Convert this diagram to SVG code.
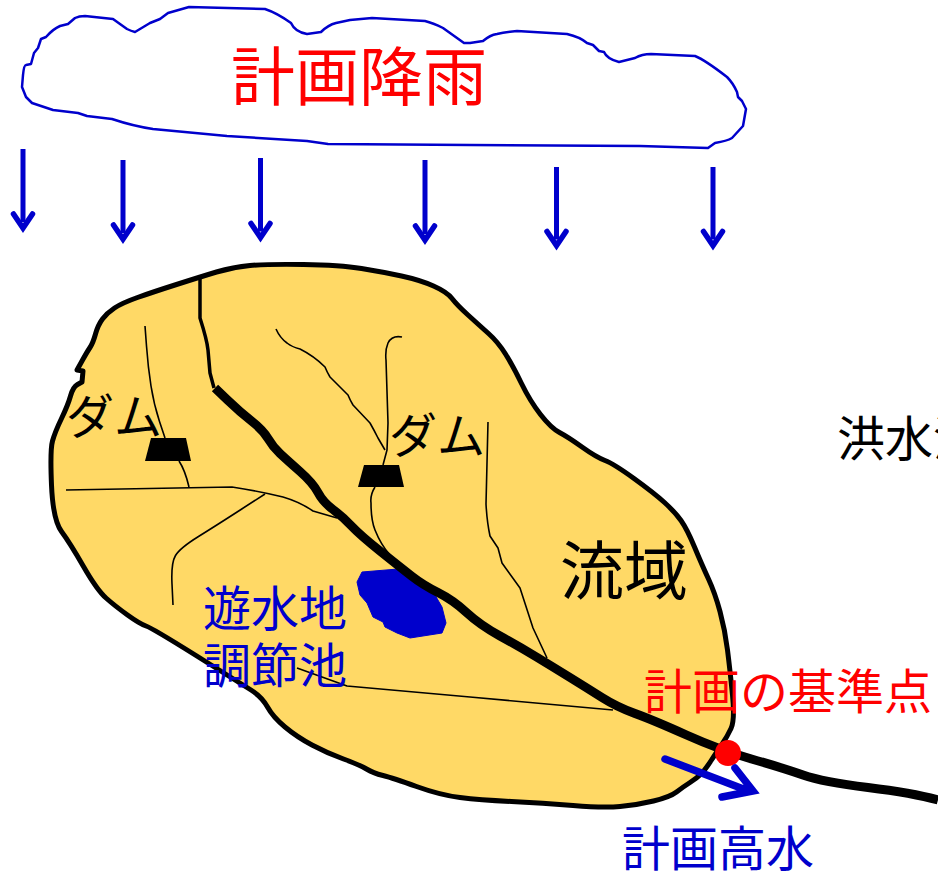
<svg xmlns="http://www.w3.org/2000/svg" width="938" height="872" viewBox="0 0 938 872">
  <style>
    text { font-family: "Noto Sans CJK JP", "Noto Sans", sans-serif; font-size: 48px; }
    .red { fill: #ff0000; }
    .blue { fill: #0000cc; }
    .black { fill: #000000; }
    .big { font-size: 64px; }
    .stream { fill: none; stroke: #000; stroke-width: 1.6; stroke-linejoin: round; }
    .dam { fill: #000; }
    .rain { fill: none; stroke: #0000cc; stroke-width: 5; marker-end: url(#rainHead); }
  </style>
  <defs>
    <marker id="rainHead" markerUnits="userSpaceOnUse" markerWidth="30" markerHeight="30" refX="15" refY="16" orient="0" overflow="visible">
      <path d="M5.500 8 L15 22 L24.500 8" fill="none" stroke="#0000cc" stroke-width="5.500" stroke-linecap="round" stroke-linejoin="miter" stroke-miterlimit="8"/>
    </marker>
  </defs>
  <rect width="938" height="872" fill="#ffffff"/>

  <g id="cloud">
    <path fill="none" stroke="#0000cc" stroke-width="2.500" stroke-linejoin="round" d="M22 87 L23 75 Q24 65 26 65 L31 64 L34 53 L38 48 L41 39 L46 37 Q53 29 60 26 L68 24 L75 18 Q79 16 85 16 L113 19 L127 29 Q131 31 135 32 L150 23 L160 19 L168 13 L189 7 L265 9 Q277 13 291 23 Q295 32 307 34 L321 32 Q328 25 336 23 L350 20 L372 18 L425 21 Q433 23 443 28 L464 43 L470 43 L483 41 Q490 35 497 34 Q505 32 517 31 L567 34 Q580 37 587 43 L593 45 L599 51 L604 52 Q607 59 619 62 L635 58 Q642 54 651 54 L695 56 Q705 60 727 77 Q733 83 737 92 L738 97 L742 101 L746 109 L743 126 L732 138 Q727 141 715 143 L708 148 L640 146 L470 145 L328 144 L307 141 L227 136 L153 129 Q133 126 112 119 L87 116 L78 113 L53 110 L32 103 L26 97 Z"/>
  </g>

  <g id="rainfall">
    <path class="rain" d="M23 149 V222"/>
    <path class="rain" d="M123 160 V233"/>
    <path class="rain" d="M260.500 158 V231.500"/>
    <path class="rain" d="M425 160 V234"/>
    <path class="rain" d="M556.500 167 V239.500"/>
    <path class="rain" d="M713 167 V239.500"/>
  </g>

  <g id="basin">
    <path fill="#ffd966" stroke="#000" stroke-width="5" stroke-linejoin="round" d="M176.500 284.500 Q200 277 216.500 272 Q233 267 250 265.500 Q267 264 303.500 264.500 Q340 265 361.500 268.500 Q383 272 401.500 276 Q420 280 433.500 286 Q447 292 452 298.500 Q457 305 468 315 Q479 325 488.500 333.500 Q498 342 505.500 354 Q513 366 521.500 383.500 Q530 401 540.500 414.500 Q551 428 559.500 432.500 Q568 437 582 447 Q596 457 605 460.500 Q614 464 634 478.500 Q654 493 664.500 502.500 Q675 512 681 520.500 Q687 529 694.500 547 Q702 565 708.500 579 Q715 593 720 611.500 Q725 630 727.500 650 Q730 670 732.500 695 Q735 720 731 728.500 Q727 737 722.500 743.500 Q718 750 711.500 760 Q705 770 701 774 Q697 778 690 782.500 Q683 787 676.500 792 Q670 797 653.500 801 Q637 805 620 806.500 Q603 808 573 805.500 Q543 803 511.500 801.500 Q480 800 460 797.500 Q440 795 416.500 786.500 Q393 778 383 775.500 Q373 773 366.500 769 Q360 765 343.500 759 Q327 753 312 745 Q297 737 285 727 Q273 717 267.500 707 Q262 697 251 690 Q240 683 196 655.500 Q152 628 146 626 Q140 624 127.500 615 Q115 606 106 598 Q97 590 83.500 566.500 Q70 543 61.500 531.500 Q53 520 51.500 485 Q50 450 52.500 441 Q55 432 61.500 418.500 Q68 405 70.500 396 Q73 387 77.500 384.500 L82 382 L83 371 L77 370 L82 361 Q87 352 90 347.500 Q93 343 95.500 334 Q98 325 102.500 319 Q107 313 114.500 308 Q122 303 137.500 297.500 Q153 292 176.500 284.500 Z"/>
  </g>

  <g id="reservoir">
    <path fill="#0000cc" stroke="#0000cc" stroke-width="1" stroke-linejoin="round" d="M362 572 L398 569 L410 580 L435 595 L442 607 L446 623 L442 633 L410 638 L397 633 L385 627 L383 622 L373 617 L367 603 L360 595 L357 582 Z"/>
  </g>

  <g id="connectors">
    <g id="tributaries">
      <path class="stream" d="M145 326 L146.500 346 Q148 367 151 386 Q154 405 159.500 421.500 L165 438 M179 461 Q185 470 189 487"/>
      <path class="stream" d="M66 490 L232 487 Q258 491 283 497 Q300 502 313 511 L337 518"/>
      <path class="stream" d="M265 494 L241 509.500 Q217 525 198.500 536.500 Q180 548 175.500 555.500 Q171 563 172 584 L173 605"/>
      <path class="stream" d="M276 329 Q280 338 287 343 Q292 347 300 349 Q314 356 325 367 Q327 372 330 377 L348 395 Q350 400 353 405 L370 423 Q374 430 378 438 L385 450"/>
      <path class="stream" d="M402 337 Q392 335 388 343 Q385 350 386 360 L388 423 L387 450 L383 465 M375 487 Q370 495 371 503 Q371 520 375 530 Q381 545 390 555"/>
      <path class="stream" d="M488 422 L486 504 Q487 522 490 536 L498 548 L502 563 L520 588 L533 628 L547 658"/>
      <path class="stream" d="M297 668 L347 686 L470 697 L613 710"/>
    </g>
    <path id="river-upper" fill="none" stroke="#000" stroke-width="3.500" stroke-linejoin="round" d="M200 278 L200 318 Q207 340 208 350 L210 373 L214 388"/>
    <path id="river-main" fill="none" stroke="#000" stroke-width="9" stroke-linejoin="round" d="M215 388 L227.500 400 Q240 412 251.500 421 Q263 430 268 438.500 Q273 447 280 453.500 Q287 460 300 471.500 Q313 483 318 492.500 Q323 502 333 509.500 Q343 517 351.500 526 Q360 535 380 551 Q400 567 411.500 576 Q423 585 438 592.500 Q453 600 466.500 612.500 Q480 625 500 636 Q520 647 536.500 657 Q553 667 570 677.500 Q587 688 602 697.500 Q617 707 635 713.500 Q653 720 686.500 735 Q720 750 751.500 759 Q783 768 803 775 Q823 782 868 787.500 Q913 793 938 800"/>
  </g>

  <g id="dam-west"><polygon class="dam" points="151,438 186,438 191,461 145,461"/></g>
  <g id="dam-east"><polygon class="dam" points="364,465 399,465 404,487 358,487"/></g>

  <g id="reference-point"><circle cx="728" cy="753" r="13" fill="#ff0000"/></g>

  <g id="outflow-arrow">
    <path d="M665 759 L746 790 M735 768 L753 791 L722 797" fill="none" stroke="#0000cc" stroke-width="7.500" stroke-linecap="round" stroke-linejoin="miter"/>
  </g>

  <g id="labels">
    <text class="red big" x="231" y="100">計画降雨</text>
    <text class="black" x="66" y="434">ダム</text>
    <text class="black" x="389" y="453">ダム</text>
    <text class="black big" x="560" y="594">流域</text>
    <text class="blue" x="203" y="626">遊水地</text>
    <text class="blue" x="203" y="683">調節池</text>
    <text class="red" x="644" y="709">計画の基準点</text>
    <text class="blue" x="622" y="866">計画高水</text>
    <text class="black" x="837" y="456">洪水流</text>
  </g>
</svg>
